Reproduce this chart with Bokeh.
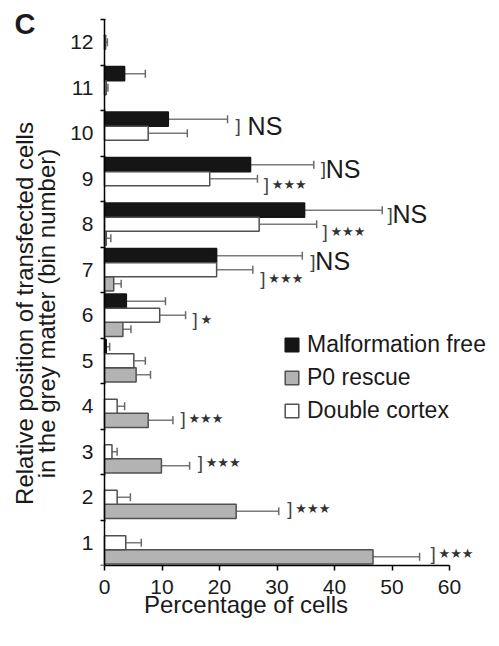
import math
from bokeh.plotting import figure
from bokeh.models import (ColumnDataSource, Whisker, TeeHead, FixedTicker, Legend,
                          LegendItem, Label, Range1d)
from bokeh.core.properties import value
from bokeh.embed import file_html
from bokeh.resources import INLINE

# ---- data ----
bins = [1, 2, 3, 4, 5, 6, 7, 8, 9, 10, 11, 12]
malformation_free = [0, 0, 0, 0, 0.3, 3.8, 19.5, 34.8, 25.4, 11.1, 3.5, 0]
malformation_err = [0, 0, 0, 0, 0.6, 6.8, 14.9, 13.5, 11.0, 10.3, 3.6, 0]
p0_rescue = [46.7, 22.9, 9.9, 7.6, 5.5, 3.2, 1.6, 0.3, 0, 0, 0, 0]
p0_err = [8.1, 7.4, 4.9, 4.3, 2.5, 1.4, 1.3, 0.8, 0, 0, 0, 0]
double_cortex = [3.7, 2.2, 1.3, 2.2, 5.1, 9.6, 19.5, 26.9, 18.3, 7.6, 0.3, 0.2]
double_err = [2.7, 2.3, 0.9, 1.3, 2.0, 4.5, 6.3, 10.0, 8.3, 6.8, 0.3, 0.3]

x_ticks = [0, 10, 20, 30, 40, 50, 60]

# significance annotations: x (percentage), y (bin position), text
ann_x = [22.8, 37.6, 27.7, 49.2, 37.9, 35.8, 27.1, 15.3, 13.2, 16.2, 31.8, 56.7]
ann_y = [10.17, 9.22, 8.87, 8.22, 7.85, 7.19, 6.81, 5.91, 3.74, 2.76, 1.75, 0.76]
ann_text = ["] NS", "]NS", "]***", "]NS", "]***", "]NS", "]***", "]*",
            "]***", "]***", "]***", "]***"]

y_title = ["Relative position of transfected cells", "in the grey matter (bin number)"]
x_title = "Percentage of cells"
panel_letter = "C"

FONT = "Liberation Sans"
TXT = "#1a1a1a"
W, H = 491, 630
PX = 5.75      # pixels per percent
BINPX = 45.5   # pixels per bin
X0 = 104       # pixel position of x = 0
YB = 565       # pixel position of the bottom of bin 1


def dx(px):
    return (px - X0) / PX


def dy(py):
    return 0.5 + (YB - py) / BINPX


# the frame covers the whole canvas on the left/top so the side texts can be drawn
p = figure(width=W, height=H, output_backend="svg", toolbar_location=None,
           x_range=Range1d(dx(0), dx(W)), y_range=Range1d(dy(YB), dy(0)),
           min_border_left=0, min_border_right=0, min_border_top=0,
           min_border_bottom=H - YB)
p.outline_line_color = None
p.grid.visible = False

series = [
    ("Malformation free", malformation_free, malformation_err, "#151515", "#151515", 0.31),
    ("P0 rescue", p0_rescue, p0_err, "#b3b3b3", "#505050", -0.31),
    ("Double cortex", double_cortex, double_err, "#ffffff", "#505050", 0.0),
]
BAR_H = 0.31
items = []
for name, vals, errs, fill, line, off in series:
    ys, vs, his = [], [], []
    for b, v, e in zip(bins, vals, errs):
        if v > 0 or e > 0:
            ys.append(b + off)
            vs.append(v)
            his.append(v + e)
    src = ColumnDataSource(dict(y=ys, v=vs, hi=his))
    w = Whisker(source=src, base="y", lower="v", upper="hi", dimension="width",
                line_color="#7a7a7a", line_width=1.5,
                upper_head=TeeHead(size=8, line_color="#6a6a6a", line_width=1.5),
                lower_head=None)
    p.add_layout(w)
    r = p.hbar(y="y", left=0, right="v", height=BAR_H, source=src,
               fill_color=fill, line_color=line, line_width=1.5)
    items.append(LegendItem(label=name, renderers=[r]))

# annotations: bracket + label
src_br = ColumnDataSource(dict(x=ann_x, y=ann_y, t=[s[0] for s in ann_text]))
p.text(x="x", y="y", text="t", source=src_br, text_font=value(FONT),
       text_font_size="19px", text_color="#444444", text_baseline="middle",
       text_align="left")
ns_idx = [i for i, s in enumerate(ann_text) if "NS" in s]
st_idx = [i for i, s in enumerate(ann_text) if "NS" not in s]
ns_rest = [ann_text[i][1:] for i in ns_idx]
src_ns = ColumnDataSource(dict(x=[ann_x[i] for i in ns_idx], y=[ann_y[i] for i in ns_idx],
                               t=[s.strip() for s in ns_rest],
                               off=[5 + 7 * (len(s) - len(s.lstrip())) for s in ns_rest]))
p.text(x="x", y="y", text="t", source=src_ns, text_font=value(FONT),
       text_font_size="25px", text_color=TXT, text_baseline="middle",
       text_align="left", x_offset="off")
src_st = ColumnDataSource(dict(x=[ann_x[i] for i in st_idx], y=[ann_y[i] for i in st_idx],
                               t=["\u2605" * ann_text[i].count("*") for i in st_idx]))
p.text(x="x", y="y", text="t", source=src_st, text_font=value("DejaVu Sans"),
       text_font_size="13px", text_color="#333333", text_baseline="middle",
       text_align="left", x_offset=8)

# x axis
xa = p.xaxis[0]
xa.ticker = FixedTicker(ticks=x_ticks)
xa.bounds = (0, 60)
xa.major_tick_out = 5
xa.major_tick_in = 0
xa.minor_tick_line_color = None
xa.axis_line_width = 1.5
xa.major_tick_line_width = 1.5
xa.major_label_text_font = FONT
xa.major_label_text_font_size = "21px"
xa.major_label_text_color = TXT
xa.major_label_standoff = 9
xa.axis_label = x_title
xa.axis_label_text_font = FONT
xa.axis_label_text_font_size = "24px"
xa.axis_label_text_font_style = "normal"
xa.axis_label_text_color = TXT
xa.axis_label_standoff = -6

# y axis fixed at x = 0
ya = p.yaxis[0]
ya.fixed_location = 0
ya.bounds = (0.5, 12.5)
ya.ticker = FixedTicker(ticks=bins, minor_ticks=[b - 0.5 for b in bins] + [12.5])
ya.major_tick_line_color = None
ya.major_tick_out = 0
ya.major_tick_in = 0
ya.minor_tick_out = 4
ya.minor_tick_in = 1
ya.minor_tick_line_width = 1.5
ya.axis_line_width = 1.5
ya.major_label_text_font = FONT
ya.major_label_text_font_size = "21px"
ya.major_label_text_color = TXT
ya.major_label_standoff = 7

# y title (two rotated lines) and the panel letter, placed in data space
for xs, txt in zip([24, 46], y_title):
    p.add_layout(Label(x=dx(xs), y=dy(313), text=txt,
                       angle=math.pi / 2, text_align="center", text_baseline="middle",
                       text_font=FONT, text_font_size="24px", text_color=TXT))
p.add_layout(Label(x=dx(14), y=dy(23.5), text=panel_letter,
                   text_font=FONT, text_font_size="29px", text_font_style="bold",
                   text_color=TXT, text_baseline="middle", text_align="left"))

legend = Legend(items=items, location=(283, YB - 424), orientation="vertical",
                glyph_width=17, glyph_height=17, label_height=24, spacing=6,
                padding=0, margin=0, label_standoff=7,
                label_text_font=FONT, label_text_font_size="23px",
                label_text_color=TXT, border_line_color=None,
                background_fill_alpha=0)
p.add_layout(legend)

open("out.html", "w").write(file_html(p, INLINE))
